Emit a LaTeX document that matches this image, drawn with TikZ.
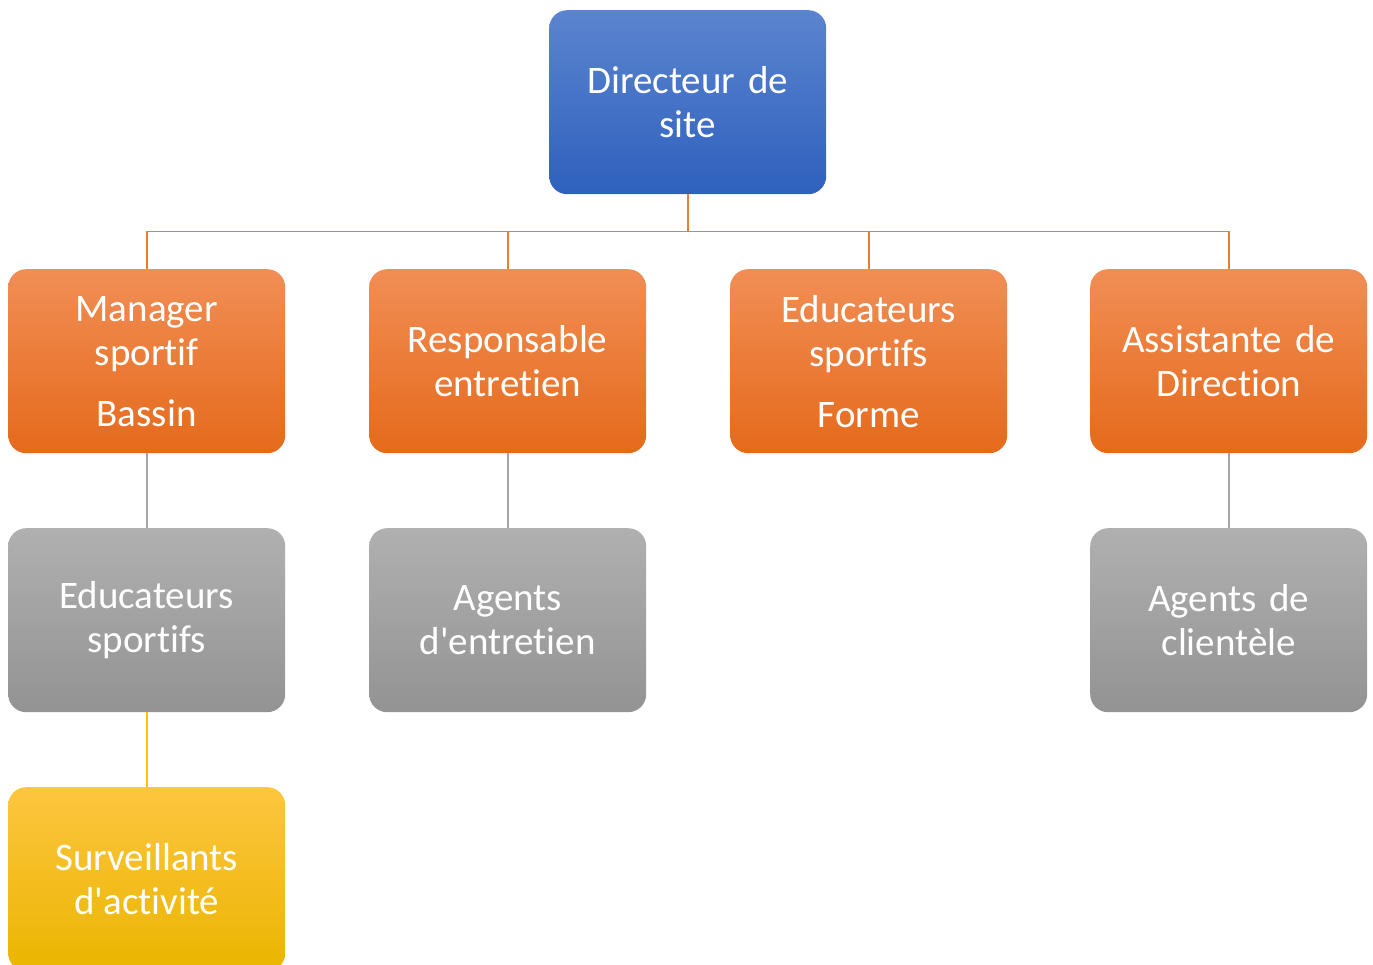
\documentclass[tikz,border=0pt]{standalone}
\usepackage{fontspec}
\setmainfont{Carlito}[Ligatures={TeXOff,CommonOff},RawFeature={-liga},WordSpace={0.75,0,0}]
\definecolor{blue1}{HTML}{5B84CF}
\definecolor{blue2}{HTML}{2E61BD}
\definecolor{orange1}{HTML}{F18E55}
\definecolor{orange2}{HTML}{E56A1B}
\definecolor{gray1}{HTML}{B0B0B0}
\definecolor{gray2}{HTML}{939393}
\definecolor{yellow1}{HTML}{FEC540}
\definecolor{yellow2}{HTML}{E9B600}
\definecolor{lineorange}{HTML}{ED7D31}
\definecolor{linegray}{HTML}{A5A5A5}
\definecolor{lineyellow}{HTML}{FFC000}
\begin{document}
\begin{tikzpicture}[x=1pt,y=-1pt,
  box/.style={rounded corners=18pt, minimum width=277pt, minimum height=184pt,
    text width=270pt, align=center, text=white, inner sep=0pt,
    font=\fontsize{39}{44}\selectfont, anchor=north west},
  bluebox/.style={box, top color=blue1, bottom color=blue2},
  orangebox/.style={box, top color=orange1, bottom color=orange2},
  graybox/.style={box, top color=gray1, bottom color=gray2},
  yellowbox/.style={box, top color=yellow1, bottom color=yellow2},
  oline/.style={draw=lineorange, line width=1.6pt},
  gline/.style={draw=linegray, line width=1.6pt},
  yline/.style={draw=lineyellow, line width=1.6pt}]
\useasboundingbox (0,0) rectangle (1373,965);
\begin{scope}
\clip (0,0) rectangle (1373,965);
\node[bluebox] (dir) at (549,10) {Directeur de\\site};
\node[orangebox] (man) at (8,269) {Manager\\sportif\\[17pt]Bassin};
\node[orangebox] (resp) at (369,269) {Responsable\\entretien};
\node[orangebox] (edf) at (730,269) {Educateurs\\sportifs\\[17pt]Forme};
\node[orangebox] (ass) at (1090,269) {Assistante de\\Direction};
\node[graybox] (eds) at (8,528) {Educateurs\\sportifs};
\node[graybox] (agt) at (369,528) {Agents\\d'entretien};
\node[graybox] (agc) at (1090,528) {Agents de\\clientèle};
\node[yellowbox] (surv) at (8,787) {Surveillants\\d'activité};
\end{scope}
\path[oline] (dir.south) -- ++(0,37) coordinate (busc);
\path[oline] (busc) -| (man.north);
\path[oline] (busc) -| (resp.north);
\path[oline] (busc) -| (edf.north);
\path[oline] (busc) -| (ass.north);
\path[gline] (man.south) -- (eds.north);
\path[gline] (resp.south) -- (agt.north);
\path[gline] (ass.south) -- (agc.north);
\path[yline] (eds.south) -- (surv.north);
\end{tikzpicture}
\end{document}
